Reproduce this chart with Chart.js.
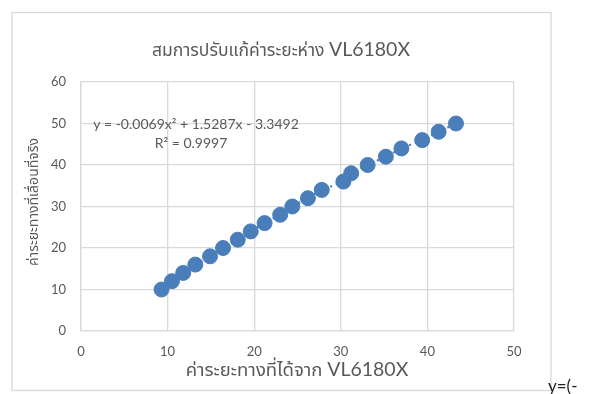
<!DOCTYPE html>
<html>
<head>
<meta charset="utf-8">
<script src="https://cdn.jsdelivr.net/npm/chart.js@4/dist/chart.umd.min.js"></script>
<style>
  html, body { margin: 0; padding: 0; background: #fff; }
  #wrap { position: relative; width: 599px; height: 394px; }
</style>
</head>
<body>
<div id="wrap"><canvas id="calChart" width="599" height="394"></canvas></div>
<script>
// distance read from the VL6180X sensor (x) vs the real distance (y)
const sensorDist = [9.3, 10.5, 11.8, 13.2, 14.9, 16.4, 18.1, 19.6, 21.2, 23.0, 24.4,
                    26.2, 27.8, 30.3, 31.2, 33.1, 35.2, 37.0, 39.4, 41.3, 43.3];
const realDist = [10, 12, 14, 16, 18, 20, 22, 24, 26, 28, 30,
                  32, 34, 36, 38, 40, 42, 44, 46, 48, 50];
const xTicks = [0, 10, 20, 30, 40, 50];
const yTicks = [0, 10, 20, 30, 40, 50, 60];

const chartTitle = ['สมการปรับแก้ค่าระยะห่าง ', 'VL6180X'];
const xTitle = ['ค่าระยะทางที่ได้จาก ', 'VL6180X'];
const yTitle = 'ค่าระยะทางที่เลื่อนที่จริง';
const trendEq = 'y = -0.0069x² + 1.5287x - 3.3492';
const trendR2 = 'R² = 0.9997';

const points = sensorDist.map((x, i) => ({ x: x, y: realDist[i] }));

const grey = '#595959';
const blue = '#4a7ebb';
const latin = 'Lato, "Noto Sans", sans-serif';
const thai = '"Noto Sans Thai", "Noto Sans", sans-serif';

function drawRuns(ctx, runs, cx, y) {
    let total = 0;
    runs.forEach(r => { ctx.font = r.f; total += ctx.measureText(r.t).width; });
    let x = cx - total / 2;
    runs.forEach(r => {
        ctx.font = r.f;
        ctx.fillText(r.t, x, y);
        x += ctx.measureText(r.t).width;
    });
}

const textPlugin = {
    id: 'texts',
    beforeDraw(chart) {
        const ctx = chart.ctx;
        ctx.save();
        ctx.fillStyle = '#fff';
        ctx.fillRect(0, 0, chart.width, chart.height);
        ctx.strokeStyle = '#d9d9d9';
        ctx.lineWidth = 1.3;
        ctx.strokeRect(12, 12.5, 539, 378);
        ctx.restore();
    },
    afterDraw(chart) {
        const ctx = chart.ctx;
        ctx.save();
        ctx.fillStyle = grey;
        ctx.textBaseline = 'alphabetic';
        ctx.textAlign = 'left';
        drawRuns(ctx, [
            { t: chartTitle[0], f: '17.5px ' + thai },
            { t: chartTitle[1], f: '19.5px ' + latin }
        ], 281, 56);
        drawRuns(ctx, [
            { t: xTitle[0], f: '18.5px ' + thai },
            { t: xTitle[1], f: '19.5px ' + latin }
        ], 297, 376);

        ctx.save();
        ctx.translate(38, 202);
        ctx.rotate(-Math.PI / 2);
        ctx.font = '14px ' + thai;
        ctx.textAlign = 'center';
        ctx.fillText(yTitle, 0, 0);
        ctx.restore();

        ctx.font = '14px ' + latin;
        ctx.textAlign = 'center';
        ctx.fillText(trendEq, 196, 129);
        ctx.fillText(trendR2, 191, 148);

        ctx.fillStyle = '#222';
        ctx.font = '17px ' + latin;
        ctx.textAlign = 'left';
        ctx.fillText('y=(-', 548, 392);
        ctx.restore();
    }
};

new Chart(document.getElementById('calChart'), {
    type: 'scatter',
    data: {
        datasets: [
            {
                label: 'trend',
                data: points,
                showLine: true,
                borderColor: blue,
                borderWidth: 2.2,
                borderDash: [2, 4],
                pointRadius: 0,
                order: 2
            },
            {
                label: 'data',
                data: points,
                backgroundColor: blue,
                borderColor: blue,
                pointRadius: 7.5,
                pointHoverRadius: 7.5,
                order: 1
            }
        ]
    },
    options: {
        responsive: false,
        animation: false,
        events: [],
        layout: { padding: { left: 51, right: 85, top: 82, bottom: 33 } },
        plugins: {
            legend: { display: false },
            tooltip: { enabled: false },
            title: { display: false }
        },
        scales: {
            x: {
                type: 'linear',
                min: xTicks[0],
                max: xTicks[xTicks.length - 1],
                afterFit: s => { s.height = 30; },
                afterBuildTicks: s => { s.ticks = xTicks.map(v => ({ value: v })); },
                grid: { color: '#d9d9d9', lineWidth: 1.3, drawTicks: false },
                border: { color: '#d9d9d9', width: 1.3 },
                ticks: { color: grey, font: { family: latin, size: 13 }, padding: 13 }
            },
            y: {
                type: 'linear',
                min: yTicks[0],
                max: yTicks[yTicks.length - 1],
                afterFit: s => { s.width = 30; },
                afterBuildTicks: s => { s.ticks = yTicks.map(v => ({ value: v })); },
                grid: { color: '#d9d9d9', lineWidth: 1.3, drawTicks: false },
                border: { color: '#d9d9d9', width: 1.3 },
                ticks: { color: grey, font: { family: latin, size: 13 }, padding: 15 }
            }
        }
    },
    plugins: [textPlugin]
});
</script>
</body>
</html>
